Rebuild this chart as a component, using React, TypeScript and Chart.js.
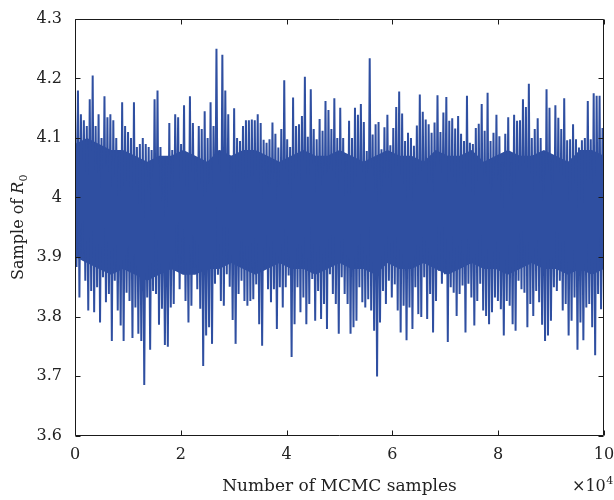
import React, { useEffect, useRef } from 'react';
import { Chart, registerables } from 'chart.js';

Chart.register(...registerables);

// ---- data ----
const TOTAL_SAMPLES = 100000;

// upper peaks of the trace, left to right (R0 sample values)
const upperPeaks = [
  4.15, 4.18, 4.14, 4.13, 4.12, 4.165, 4.205, 4.12, 4.14, 4.10,
  4.17, 4.135, 4.14, 4.13, 4.10, 4.08, 4.16, 4.12, 4.11, 4.10,
  4.16, 4.085, 4.09, 4.10, 4.09, 4.085, 4.08, 4.165, 4.18, 4.085,
  4.065, 4.065, 4.125, 4.08, 4.14, 4.135, 4.09, 4.155, 4.07, 4.17,
  4.125, 4.065, 4.12, 4.115, 4.145, 4.10, 4.16, 4.12, 4.25, 4.08,
  4.24, 4.18, 4.14, 4.07, 4.15, 4.10, 4.095, 4.12, 4.13, 4.13,
  4.131, 4.13, 4.14, 4.125, 4.097, 4.092, 4.098, 4.126, 4.107, 4.084,
  4.115, 4.197, 4.098, 4.085, 4.168, 4.12, 4.123, 4.137, 4.203, 4.102,
  4.182, 4.115, 4.098, 4.132, 4.112, 4.162, 4.147, 4.115, 4.167, 4.1,
  4.151, 4.1, 4.061, 4.129, 4.1, 4.151, 4.139, 4.157, 4.127, 4.078,
  4.234, 4.106, 4.123, 4.127, 4.081, 4.118, 4.139, 4.088, 4.117, 4.152,
  4.178, 4.141, 4.095, 4.109, 4.1, 4.087, 4.121, 4.173, 4.144, 4.131,
  4.123, 4.109, 4.126, 4.172, 4.11, 4.143, 4.169, 4.129, 4.133, 4.116,
  4.137, 4.107, 4.095, 4.171, 4.092, 4.09, 4.117, 4.124, 4.157, 4.112,
  4.176, 4.095, 4.109, 4.139, 4.103, 4.059, 4.107, 4.135, 4.059, 4.139,
  4.129, 4.13, 4.165, 4.152, 4.191, 4.1, 4.115, 4.133, 4.1, 4.078,
  4.182, 4.151, 4.064, 4.155, 4.134, 4.115, 4.167, 4.096, 4.098, 4.123,
  4.098, 4.084, 4.096, 4.1, 4.162, 4.098, 4.175, 4.171, 4.171, 4.117,
];

// lower troughs of the trace, left to right
const lowerTroughs = [
  3.883, 3.832, 3.905, 3.86, 3.81, 3.843, 3.807, 3.849, 3.79, 3.866,
  3.824, 3.838, 3.759, 3.86, 3.81, 3.785, 3.759, 3.84, 3.826, 3.764,
  3.815, 3.771, 3.759, 3.685, 3.832, 3.744, 3.843, 3.838, 3.786, 3.813,
  3.752, 3.749, 3.815, 3.821, 3.905, 3.846, 3.871, 3.826, 3.79, 3.818,
  3.883, 3.846, 3.813, 3.717, 3.768, 3.782, 3.754, 3.855, 3.87, 3.826,
  3.818, 3.871, 3.85, 3.794, 3.754, 3.838, 3.86, 3.826, 3.818, 3.826,
  3.829, 3.854, 3.787, 3.751, 3.883, 3.846, 3.824, 3.846, 3.779, 3.849,
  3.815, 3.849, 3.869, 3.732, 3.787, 3.849, 3.807, 3.832, 3.787, 3.821,
  3.863, 3.793, 3.843, 3.796, 3.821, 3.779, 3.871, 3.838, 3.821, 3.771,
  3.866, 3.838, 3.821, 3.771, 3.782, 3.793, 3.849, 3.824, 3.815, 3.829,
  3.81, 3.776, 3.699, 3.79, 3.843, 3.821, 3.86, 3.832, 3.854, 3.81,
  3.773, 3.818, 3.76, 3.815, 3.779, 3.849, 3.804, 3.799, 3.866, 3.796,
  3.838, 3.773, 3.826, 3.877, 3.855, 3.871, 3.757, 3.849, 3.84, 3.801,
  3.838, 3.852, 3.773, 3.855, 3.832, 3.785, 3.826, 3.855, 3.81, 3.801,
  3.787, 3.807, 3.832, 3.826, 3.812, 3.768, 3.826, 3.818, 3.787, 3.776,
  3.86, 3.846, 3.84, 3.782, 3.821, 3.801, 3.843, 3.824, 3.786, 3.759,
  3.768, 3.793, 3.849, 3.843, 3.86, 3.81, 3.821, 3.768, 3.793, 3.832,
  3.744, 3.79, 3.76, 3.815, 3.821, 3.782, 3.735, 3.838, 3.812, 3.826,
];

// edges of the densely filled core of the trace, left to right
const coreTop = [
  4.09, 4.10, 4.09, 4.08, 4.08, 4.07, 4.06, 4.07, 4.07, 4.08,
  4.07, 4.06, 4.08, 4.07, 4.08, 4.08, 4.07, 4.06, 4.07, 4.08,
  4.07, 4.07, 4.08, 4.07, 4.06, 4.07, 4.08, 4.07, 4.07, 4.06,
  4.08, 4.07, 4.07, 4.08, 4.06, 4.07, 4.08, 4.07, 4.07, 4.08,
  4.07, 4.06, 4.08, 4.08, 4.07,
];
const coreBottom = [
  3.90, 3.89, 3.88, 3.87, 3.88, 3.87, 3.86, 3.87, 3.88, 3.87,
  3.87, 3.88, 3.88, 3.89, 3.88, 3.87, 3.88, 3.89, 3.88, 3.88,
  3.87, 3.88, 3.89, 3.88, 3.88, 3.87, 3.89, 3.88, 3.88, 3.89,
  3.88, 3.87, 3.88, 3.89, 3.88, 3.88, 3.87, 3.88, 3.89, 3.88,
  3.88, 3.87, 3.88, 3.87, 3.88,
];

const xTickValues = [0, 2, 4, 6, 8, 10]; // ×10^4
const yTickLabels = ['3.6', '3.7', '3.8', '3.9', '4', '4.1', '4.2', '4.3'];
const xTitle = 'Number of MCMC samples';
const yTitleText = 'Sample of ';
const yTitleSymbol = 'R';
const yTitleSub = '0';
const xExponent = '4';

const FONT = '"DejaVu Serif", "Liberation Serif", serif';
const TEXT = '#222222';
const LINE = 'rgb(47, 79, 161)';

function buildTrace() {
  const n = upperPeaks.length;
  const step = TOTAL_SAMPLES / (n - 0.5);
  const pts: { x: number; y: number }[] = [];
  for (let k = 0; k < n; k++) {
    pts.push({ x: k * step, y: upperPeaks[k] });
    pts.push({ x: (k + 0.5) * step, y: lowerTroughs[k] });
  }
  return pts;
}

function buildEdge(vals: number[]) {
  const step = TOTAL_SAMPLES / (vals.length - 1);
  return vals.map((v, i) => ({ x: i * step, y: v }));
}

const framePlugin = {
  id: 'matlabFrame',
  afterDatasetsDraw(chart: any) {
    const { ctx, chartArea: a, scales } = chart;
    const L = Math.round(a.left) + 0.5;
    const R = Math.round(a.right) - 0.5;
    const T = Math.round(a.top) + 0.5;
    const B = Math.round(a.bottom) - 0.5;
    ctx.save();
    ctx.strokeStyle = '#1a1a1a';
    ctx.lineWidth = 1;
    ctx.beginPath();
    ctx.rect(L, T, R - L, B - T);
    ctx.stroke();
    const tl = 5;
    ctx.beginPath();
    scales.y.ticks.forEach((t: any) => {
      const y = Math.round(scales.y.getPixelForValue(t.value)) + 0.5;
      ctx.moveTo(L, y); ctx.lineTo(L + tl, y);
      ctx.moveTo(R, y); ctx.lineTo(R - tl, y);
    });
    scales.x.ticks.forEach((t: any) => {
      const x = Math.round(scales.x.getPixelForValue(t.value)) + 0.5;
      ctx.moveTo(x, B); ctx.lineTo(x, B - tl);
      ctx.moveTo(x, T); ctx.lineTo(x, T + tl);
    });
    ctx.stroke();
    ctx.restore();
  },
  afterDraw(chart: any) {
    const { ctx, chartArea: a } = chart;
    ctx.save();
    ctx.fillStyle = TEXT;
    // x title
    ctx.font = `17px ${FONT}`;
    ctx.textAlign = 'center';
    ctx.textBaseline = 'alphabetic';
    ctx.fillText(xTitle, (a.left + a.right) / 2, 491);
    // ×10^4
    ctx.textAlign = 'left';
    ctx.font = `16px ${FONT}`;
    const base = '\u00d710';
    const w = ctx.measureText(base).width;
    const x0 = 572;
    ctx.fillText(base, x0, 491);
    ctx.font = `11px ${FONT}`;
    ctx.fillText(xExponent, x0 + w + 0.5, 484);
    // y title (rotated)
    ctx.translate(23, (a.top + a.bottom) / 2);
    ctx.rotate(-Math.PI / 2);
    ctx.font = `16px ${FONT}`;
    const w1 = ctx.measureText(yTitleText).width;
    ctx.font = `italic 16px ${FONT}`;
    const w2 = ctx.measureText(yTitleSymbol).width;
    ctx.font = `11px ${FONT}`;
    const w3 = ctx.measureText(yTitleSub).width;
    let sx = -(w1 + w2 + w3) / 2;
    ctx.font = `16px ${FONT}`;
    ctx.fillText(yTitleText, sx, 0);
    sx += w1;
    ctx.font = `italic 16px ${FONT}`;
    ctx.fillText(yTitleSymbol, sx, 0);
    sx += w2;
    ctx.font = `11px ${FONT}`;
    ctx.fillText(yTitleSub, sx, 4);
    ctx.restore();
  },
};

export default function App() {
  const ref = useRef<HTMLCanvasElement | null>(null);
  useEffect(() => {
    if (!ref.current) return;
    const chart = new Chart(ref.current, {
      type: 'line',
      data: {
        datasets: [
          {
            data: buildTrace(),
            borderColor: LINE,
            borderWidth: 2,
            pointRadius: 0,
            tension: 0,
            fill: false,
          },
          {
            data: buildEdge(coreBottom),
            borderColor: LINE,
            borderWidth: 0,
            pointRadius: 0,
            tension: 0,
            fill: false,
          },
          {
            data: buildEdge(coreTop),
            borderColor: LINE,
            backgroundColor: LINE,
            borderWidth: 0,
            pointRadius: 0,
            tension: 0,
            fill: 1,
          },
        ],
      },
      options: {
        animation: false,
        responsive: false,
        devicePixelRatio: 1,
        layout: { padding: { left: 0, right: 10, top: 19, bottom: 0 } },
        plugins: { legend: { display: false }, tooltip: { enabled: false } },
        scales: {
          x: {
            type: 'linear',
            min: 0,
            max: TOTAL_SAMPLES,
            afterBuildTicks: (s: any) => {
              s.ticks = xTickValues.map((v) => ({ value: v * 10000 }));
            },
            ticks: {
              callback: (v: any) => String(Math.round(Number(v) / 10000)),
              font: { family: FONT, size: 16 },
              color: TEXT,
              padding: 10,
              maxRotation: 0,
              autoSkip: false,
            },
            grid: { display: false, drawTicks: false },
            border: { display: false },
            afterFit: (s: any) => {
              s.height = 64.5;
              s.paddingLeft = 0;
              s.paddingRight = 0;
            },
          },
          y: {
            type: 'linear',
            min: 3.6,
            max: 4.3,
            afterBuildTicks: (s: any) => {
              s.ticks = yTickLabels.map((l) => ({ value: Number(l) }));
            },
            ticks: {
              callback: (v: any) => {
                const s = Number(v).toFixed(1);
                return s.endsWith('.0') ? s.slice(0, -2) : s;
              },
              font: { family: FONT, size: 16 },
              color: TEXT,
              padding: 13,
              autoSkip: false,
            },
            grid: { display: false, drawTicks: false },
            border: { display: false },
            afterFit: (s: any) => {
              s.width = 75;
              s.paddingTop = 0;
              s.paddingBottom = 0;
            },
          },
        },
      },
      plugins: [framePlugin],
    });
    return () => chart.destroy();
  }, []);
  return (
    <div style={{ position: 'absolute', left: 0, top: 0, width: 614, height: 500, background: '#fff' }}>
      <canvas ref={ref} width={614} height={500} style={{ display: 'block' }} />
    </div>
  );
}
